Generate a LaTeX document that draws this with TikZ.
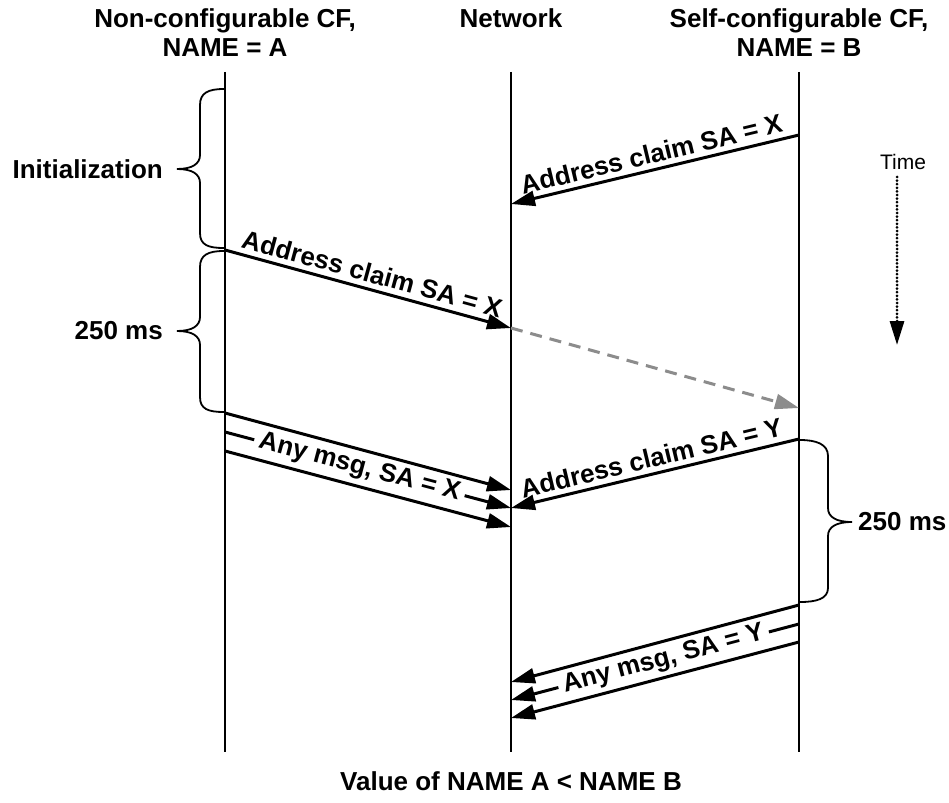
\documentclass[tikz,border=0pt]{standalone}
\usepackage{fontspec}
\setmainfont{Liberation Sans}
\usetikzlibrary{arrows.meta}
\definecolor{dgray}{RGB}{140,140,140}
\begin{document}
\begin{tikzpicture}[x=1pt,y=-1pt,
  lab/.style={font=\fontsize{26}{29}\selectfont\bfseries, inner sep=2pt},
  hdr/.style={font=\fontsize{26}{29}\selectfont\bfseries, align=center, inner sep=0pt},
  life/.style={line width=1.6pt},
  msg/.style={line width=3pt, -{Triangle[length=24pt,width=15pt]}},
  msgplain/.style={line width=3pt},
  gmsg/.style={line width=3pt, dgray, dash pattern=on 12pt off 8pt, -{Triangle[length=24pt,width=15pt]}},
  br/.style={line width=1.8pt},
  tarr/.style={line width=3pt, line cap=round, dash pattern=on 0pt off 3.6pt, -{Triangle[length=24pt,width=14pt]}}]
\useasboundingbox (0,0) rectangle (949,802);

% lifelines
\coordinate (A0) at (225,72); \coordinate (A1) at (225,752);
\coordinate (N0) at (511,72); \coordinate (N1) at (511,752);
\coordinate (B0) at (799,72); \coordinate (B1) at (799,752);
\draw[life] (A0) -- (A1);
\draw[life] (N0) -- (N1);
\draw[life] (B0) -- (B1);

% headers
\node[hdr] (hA) at (225,33) {Non-configurable CF,\\NAME = A};
\node[hdr] (hN) at (511,18) {Network};
\node[hdr] (hB) at (799,33) {Self-configurable CF,\\NAME = B};
\node[hdr] (foot) at (511,781) {Value of NAME A < NAME B};

% message 1
\coordinate (m1s) at (799,135); \coordinate (m1e) at (511,204);
\draw[msg] (m1s) -- node[lab, sloped, above=3pt] {Address claim SA = X} (m1e);

% message 2
\coordinate (m2s) at (225,250); \coordinate (m2e) at (511,328);
\draw[msg] (m2s) -- node[lab, sloped, above=3pt] {Address claim SA = X} (m2e);

% gray dashed
\coordinate (g1e) at (799,408);
\draw[gmsg] (m2e) -- (g1e);

% message Y claim
\coordinate (m3s) at (799,439); \coordinate (m3e) at (511,508);
\draw[msg] (m3s) -- node[lab, sloped, above=3pt] {Address claim SA = Y} (m3e);

% triple X
\coordinate (x1s) at (225,413); \coordinate (x1e) at (511,490);
\coordinate (x2s) at (225,432); \coordinate (x2e) at (511,508);
\coordinate (x3s) at (225,451); \coordinate (x3e) at (511,527);
\draw[msg] (x1s) -- (x1e);
\draw[msg] (x3s) -- (x3e);
\path (x2s) -- node[lab, sloped, pos=0.47, inner sep=5pt] (tx) {Any msg, SA = X} (x2e);
\draw[msgplain] (x2s) -- (tx.west);
\draw[msg] (tx.east) -- (x2e);

% triple Y
\coordinate (y1s) at (799,605); \coordinate (y1e) at (511,682);
\coordinate (y2s) at (799,624); \coordinate (y2e) at (511,700);
\coordinate (y3s) at (799,642); \coordinate (y3e) at (511,718);
\draw[msg] (y1s) -- (y1e);
\draw[msg] (y3s) -- (y3e);
\path (y2s) -- node[lab, sloped, pos=0.47, inner sep=5pt] (ty) {Any msg, SA = Y} (y2e);
\draw[msgplain] (y2s) -- (ty.east);
\draw[msg] (ty.west) -- (y2e);

% braces
\draw[br] (224,89) .. controls (208,89) and (200,93) .. (200,105) -- (200,155)
  .. controls (200,164) and (192,169) .. (177,169)
  .. controls (192,169) and (200,174) .. (200,183) -- (200,233)
  .. controls (200,245) and (208,248) .. (224,248);
\node[lab, anchor=east, inner sep=0pt] (init) at (163,169) {Initialization};

\draw[br] (224,251) .. controls (208,251) and (200,255) .. (200,267) -- (200,317)
  .. controls (200,326) and (192,331) .. (177,331)
  .. controls (192,331) and (200,336) .. (200,345) -- (200,397)
  .. controls (200,409) and (208,412) .. (224,412);
\node[lab, anchor=east, inner sep=0pt] (t1) at (163,331) {250 ms};

\draw[br] (800,440) .. controls (816,440) and (828,444) .. (828,456) -- (828,508)
  .. controls (828,517) and (836,522) .. (852,522)
  .. controls (836,522) and (828,527) .. (828,536) -- (828,588)
  .. controls (828,599) and (816,602) .. (800,602);
\node[lab, anchor=west, inner sep=0pt] (t2) at (858,522) {250 ms};

% time
\node[font=\fontsize{21}{24}\selectfont, inner sep=0pt] (time) at (903,162) {Time};
\coordinate (ts) at (897,177); \coordinate (te) at (897,345);
\draw[tarr] (ts) -- (te);
\end{tikzpicture}
\end{document}
